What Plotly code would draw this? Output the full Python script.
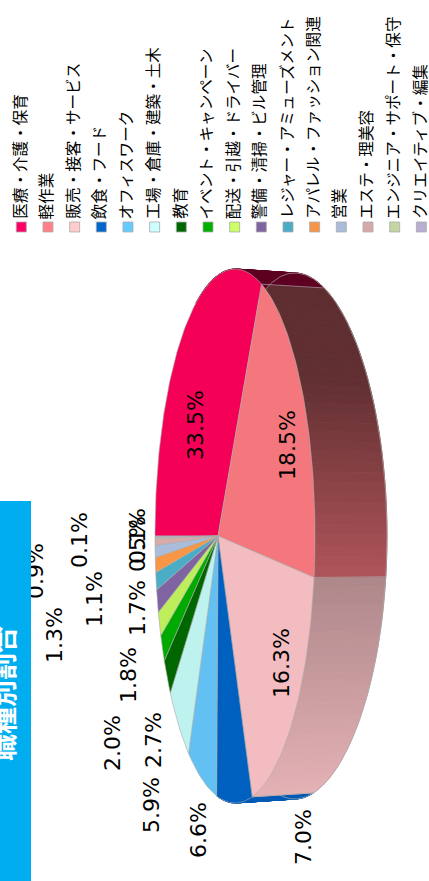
import numpy as np
import plotly.graph_objects as go

categories = ["医療・介護・保育", "軽作業", "販売・接客・サービス", "飲食・フード", "オフィスワーク",
              "工場・倉庫・建築・土木", "教育", "イベント・キャンペーン", "配送・引越・ドライバー",
              "警備・清掃・ビル管理", "レジャー・アミューズメント", "アパレル・ファッション関連",
              "営業", "エステ・理美容", "エンジニア・サポート・保守", "クリエイティブ・編集"]
values = [33.5, 18.5, 16.3, 7.0, 6.6, 5.9, 2.7, 2.0, 1.8, 1.7, 1.3, 1.1, 0.9, 0.5, 0.1, 0.1]
colors = ["#f50057", "#f4777d", "#f2bcc0", "#0060c0", "#62c1f2", "#bdf2ef", "#006600", "#00aa00",
          "#bfee5c", "#8064a2", "#4bacc6", "#f79646", "#a9bcd9", "#d9aaaa", "#c3d6a4", "#b9aed0"]
legend_colors = ["#ff0066", "#ff8086", "#ffcccc", "#0066cc", "#66ccff", "#ccffff", "#006600", "#00b000",
                 "#ccff66", "#8064a2", "#4bacc6", "#f79646", "#a9bcd9", "#d9a9a9", "#c3d6a4", "#b9aed0"]
value_labels = ["33.5%", "18.5%", "16.3%", "7.0%", "6.6%", "5.9%", "2.7%", "2.0%", "1.8%", "1.7%",
                "1.3%", "1.1%", "0.9%", "0.5%", "0.1%", "0.1%"]
title = "職種別割合"

# label centres (free-placed by the original's collision handling)
label_x = [195, 287, 281, 303, 198, 151, 153, 112, 128, 137, 54, 94, 35, 137, 137, 79]
label_y = [425, 445, 663, 837, 830, 805, 740, 743, 675, 608, 635, 599, 571, 544, 536, 540]

top = dict(cx=235, cy=536, rx=80, ry=267, ax=-0.2125, ay=-0.2125)
low = dict(cx=300, cy=536, rx=87, ry=263, ax=-0.27, ay=-0.2125)


def rim(e, turn):
    t = np.asarray(turn) * 2 * np.pi
    x, y = -np.cos(t), -np.sin(t)
    return (e["cx"] + e["rx"] * (x + e["ax"]) / (1 + e["ax"] * x),
            e["cy"] + e["ry"] * y * np.sqrt(1 - e["ay"] ** 2) / (1 + e["ay"] * x))


def rgb(hexc):
    return np.array([int(hexc[i:i + 2], 16) for i in (1, 3, 5)], float)


def shade(hexc, y):
    f = np.interp(y, [270, 380, 577, 800], [0.38, 0.40, 0.72, 0.95])
    r, g, b = (rgb(hexc) * f).astype(int)
    return f"rgb({r},{g},{b})"


edges = np.cumsum([0] + values) / sum(values)
fig = go.Figure()


def poly(x, y, fill, line=None, width=1):
    fig.add_trace(go.Scatter(x=x, y=y, mode="lines", fill="toself", fillcolor=fill,
                             line=dict(color=line or fill, width=width), hoverinfo="skip",
                             showlegend=False))


# walls, far ones first
for i in range(3, -1, -1):
    n = 36
    tt = np.linspace(edges[i], edges[i + 1], n + 1)
    if i == 0:
        tt = np.linspace(max(edges[0], 0.2), edges[1], n + 1)
    tx, ty = rim(top, tt)
    lx, ly = rim(low, tt)
    for k in range(n):
        poly([tx[k], tx[k + 1], lx[k + 1], lx[k], tx[k]], [ty[k], ty[k + 1], ly[k + 1], ly[k], ty[k]],
             shade(colors[i], (ty[k] + ly[k + 1]) / 2))
    # wall outline
    fig.add_trace(go.Scatter(x=list(lx) + [tx[-1]], y=list(ly) + [ty[-1]], mode="lines",
                             line=dict(color="rgba(170,170,170,0.7)", width=1), hoverinfo="skip",
                             showlegend=False))

# top face
cxp = top["cx"] + top["rx"] * top["ax"]
for i, c in enumerate(colors):
    tt = np.linspace(edges[i], edges[i + 1], max(3, int(values[i] * 3)))
    x, y = rim(top, tt)
    poly([cxp] + list(x) + [cxp], [top["cy"]] + list(y) + [top["cy"]], c, "rgba(170,170,170,0.6)", 1)

# legend swatches
lx0 = 21.3 + 26.67 * np.arange(len(categories))
fig.add_trace(go.Scatter(x=lx0, y=[227] * len(categories), mode="markers", hoverinfo="skip", showlegend=False,
                         marker=dict(symbol="square", size=10, color=legend_colors,
                                     line=dict(color="rgba(170,170,170,0.8)", width=1))))

ann = []
for x, c in zip(lx0, categories):
    ann.append(dict(x=x - 3, y=221, text=c, textangle=-90, showarrow=False, xanchor="center", yanchor="bottom",
                    font=dict(family="Noto Sans CJK JP", size=15.6, color="#000000")))
for x, y, s in zip(label_x, label_y, value_labels):
    ann.append(dict(x=x, y=y, text=s, textangle=-90, showarrow=False, xanchor="center", yanchor="middle",
                    font=dict(family="DejaVu Sans", size=22, color="#000000")))
# header band sits over the 0.9% label, as in the original
ann.append(dict(x=0, y=501, xanchor="left", yanchor="top", text=" ", showarrow=False, width=31, height=380,
                bgcolor="#00aeef", borderpad=0, borderwidth=0))
ann.append(dict(x=2, y=694, text=title, textangle=-90, showarrow=False, xanchor="center",
                yanchor="middle", font=dict(family="Noto Sans CJK JP", size=27, color="#ffffff", weight="bold")))

fig.update_layout(width=429, height=881, margin=dict(l=0, r=0, t=0, b=0), paper_bgcolor="white",
                  plot_bgcolor="white", showlegend=False, annotations=ann,
                  xaxis=dict(range=[0, 429], visible=False, fixedrange=True),
                  yaxis=dict(range=[881, 0], visible=False, fixedrange=True))
fig.write_html("out.html", config={"displayModeBar": False},
               post_script="document.body.style.margin='0';document.documentElement.style.overflow='hidden';")
